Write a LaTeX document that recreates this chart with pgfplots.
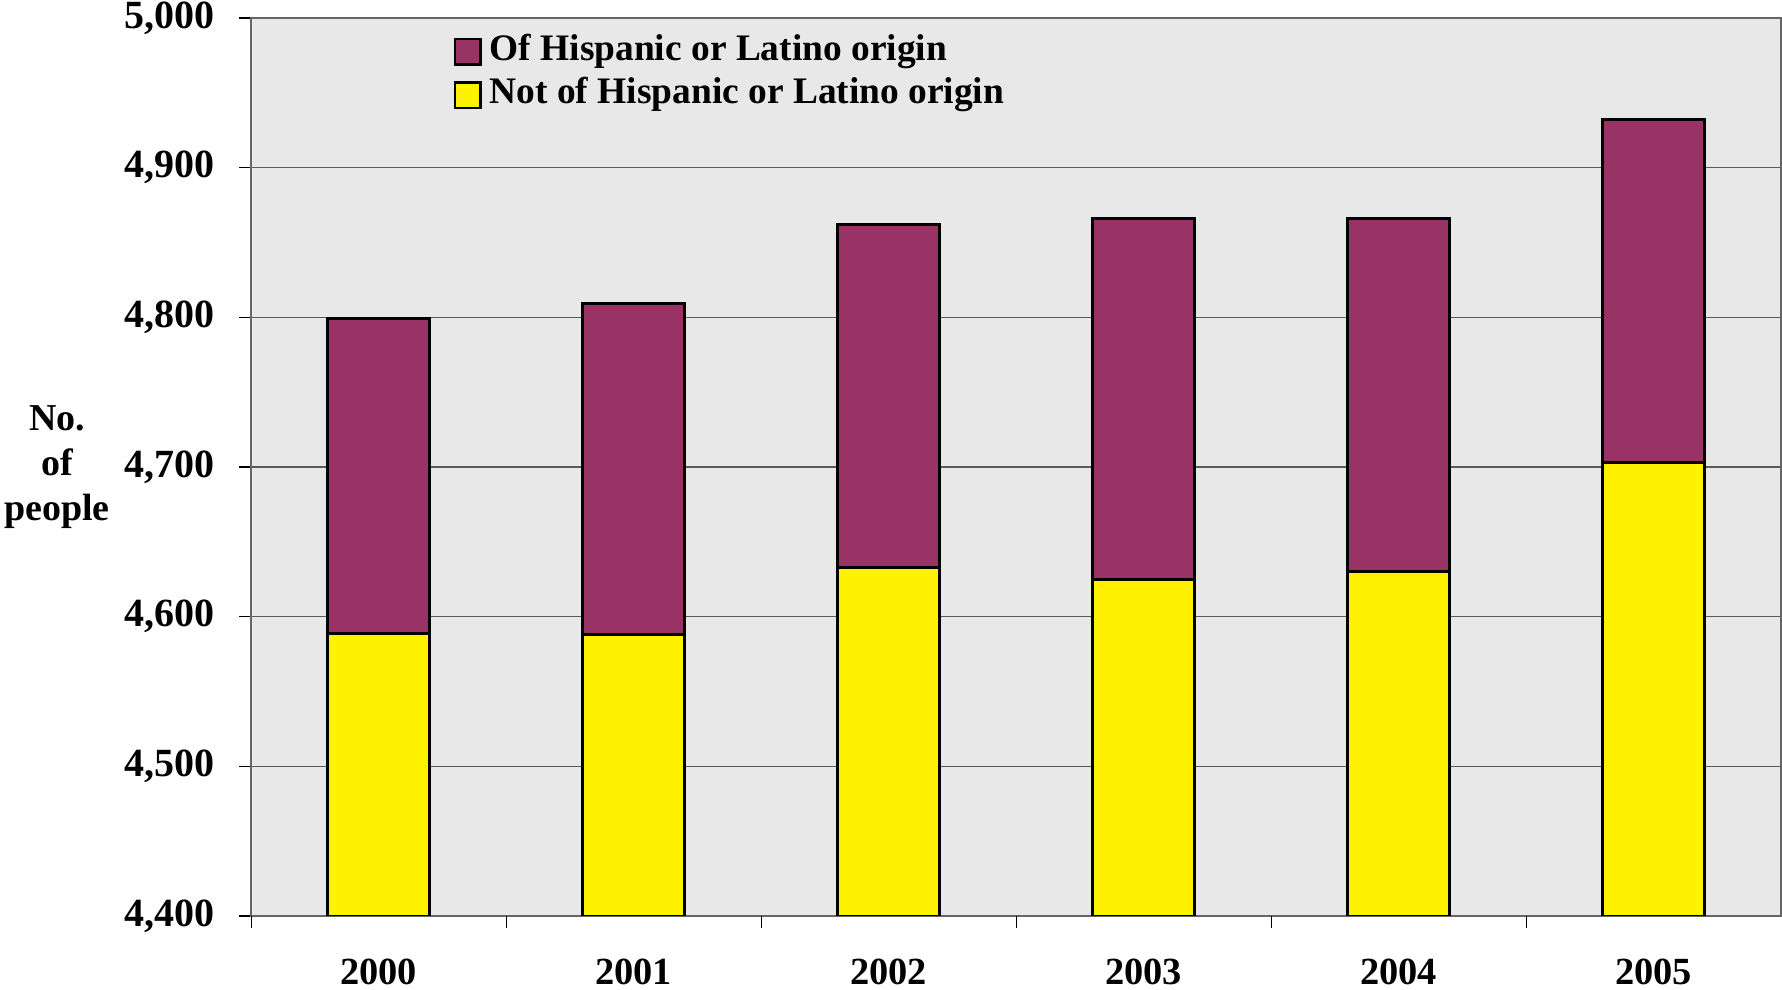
\documentclass[border=0pt]{standalone}
\usepackage{fontspec}
\setmainfont{Liberation Serif}
\usepackage{pgfplots}
\pgfplotsset{compat=1.18}
\definecolor{plum}{RGB}{153,51,102}
\definecolor{granite}{RGB}{232,232,232}
\definecolor{gridc}{RGB}{90,90,90}
\begin{document}
\bfseries
\begin{tikzpicture}
\begin{axis}[
  scale only axis, width=382.5pt, height=224.5pt,
  ybar stacked, bar width=0.4,
  xmin=-0.5, xmax=5.5, ymin=4400, ymax=5000,
  ytick={4400,4500,...,5000},
  xtick={0,1,2,3,4,5},
  xticklabels={2000,2001,2002,2003,2004,2005},
  x tick style={draw=none},
  extra x ticks={-0.5,0.5,1.5,2.5,3.5,4.5},
  extra x tick style={xticklabel={}, x tick style={draw=black}, major tick length=3pt},
  tick align=outside, major tick length=3pt,
  xtick pos=lower, ytick pos=left,
  y tick style={draw=black, line width=0.4pt},
  ymajorgrids, grid style={draw=gridc, line width=0.35pt},
  axis background/.style={fill=granite},
  axis line style={draw=gray!80!black, line width=0.5pt},
  /pgf/number format/assume math mode=true,
  yticklabel style={font=\bfseries\fontsize{10}{12}\selectfont, xshift=-2.6pt},
  xticklabel style={font=\bfseries\fontsize{9.6}{12}\selectfont, yshift=-4.3pt},
  ylabel={No.\\of\\people},
  ylabel style={rotate=-90, at={(axis description cs:0,0.5)}, anchor=center,
    xshift=-48.5pt, align=center, font=\bfseries\fontsize{9.5}{11.25}\selectfont},
  reverse legend,
  legend style={draw=none, fill=none, at={(rel axis cs:0.132,0.9875)}, anchor=north west,
    inner sep=0pt, column sep=2pt, row sep=0pt,
    nodes={inner sep=0pt, text height=7.5pt, text depth=3.4pt},
    font=\bfseries\fontsize{9.35}{12}\selectfont},
  legend cell align=left,
]
\addplot[fill=yellow, draw=black, line width=0.7pt,
  legend image code/.code={\draw[fill=yellow, draw=black, line width=0.6pt] (0pt,-3.2pt) rectangle (6.4pt,3.2pt);}]
  coordinates {(0,4589) (1,4588) (2,4633) (3,4625) (4,4630) (5,4703)};
\addplot[fill=plum, draw=black, line width=0.7pt,
  legend image code/.code={\draw[fill=plum, draw=black, line width=0.6pt] (0pt,-3.2pt) rectangle (6.4pt,3.2pt);}]
  coordinates {(0,210) (1,221) (2,229) (3,241) (4,236) (5,229)};
\legend{Not of Hispanic or Latino origin, Of Hispanic or Latino origin}
\end{axis}
\pgfresetboundingbox
\path[use as bounding box] ([shift={(-62.75pt,-18.5pt)}]current axis.south west) rectangle ([shift={(0.25pt,4.5pt)}]current axis.north east);
\end{tikzpicture}
\end{document}
